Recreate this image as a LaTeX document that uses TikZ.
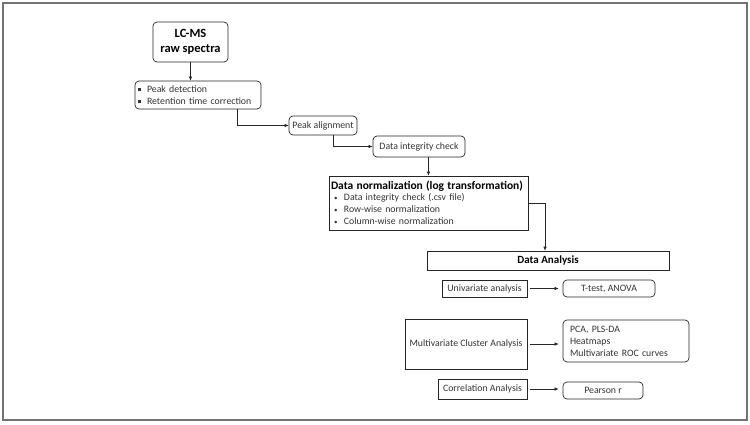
\documentclass[tikz,border=0pt]{standalone}
\usepackage{fontspec}
\setmainfont{Carlito}
\usetikzlibrary{arrows.meta}
\newcommand{\mybul}{\hspace*{3pt}\raisebox{0.2pt}{\fontsize{7}{7}\selectfont\textbullet}\hspace{6.5pt}}
\newcommand{\mysq}{\rule[1pt]{3pt}{3pt}\hspace{6pt}}
\begin{document}
\begin{tikzpicture}[x=1pt,y=-1pt,
  base/.style={draw=black!85,line width=0.7pt,inner sep=2pt,font=\fontsize{9.8}{12}\selectfont,text=black!80},
  rbox/.style={base,rounded corners=4pt},
  sbox/.style={base},
  conn/.style={draw=black!85,line width=0.6pt,-{Latex[length=4pt,width=3.5pt]}},
]
\useasboundingbox (0,0) rectangle (750,424);
\draw[black!55,line width=1.2pt] (3,3) rectangle (747,420);

\node[rbox,minimum width=75pt,minimum height=40pt,align=center,font=\fontsize{12.5}{15}\selectfont\bfseries,text=black] (lcms) at (190.5,42) {LC-MS\\raw spectra};

\node[rbox,minimum width=126pt,minimum height=28pt,align=left,text width=120pt,inner xsep=3pt] (peak) at (198,95)
 {\mysq Peak detection\\\mysq Retention time correction};

\node[rbox,minimum width=68pt,minimum height=19pt] (palign) at (323,125.5) {Peak alignment};
\node[rbox,minimum width=92pt,minimum height=21pt] (dic) at (419,146.5) {Data integrity check};

\node[sbox,minimum width=199pt,minimum height=54pt,align=left,text width=195pt,inner xsep=2pt,inner ysep=1pt] (norm) at (428.5,203)
 {{\fontsize{11.5}{13}\selectfont\bfseries\color{black}Data normalization (log transformation)}\\[-1pt]
  \mybul Data integrity check (.csv file)\\
  \mybul Row-wise normalization\\
  \mybul Column-wise normalization};

\node[sbox,minimum width=242pt,minimum height=19pt,font=\fontsize{11}{13}\selectfont\bfseries,text=black] (da) at (548,260.5) {Data Analysis};

\node[sbox,minimum width=85pt,minimum height=17pt] (uni) at (484.5,288.5) {Univariate analysis};
\node[rbox,minimum width=92pt,minimum height=17pt] (ttest) at (609,288.5) {T-test, ANOVA};

\node[sbox,minimum width=122pt,minimum height=50pt] (multi) at (466,344) {Multivariate Cluster Analysis};
\node[rbox,minimum width=126pt,minimum height=42pt,align=left,text width=112pt] (pca) at (626,341)
 {PCA, PLS-DA\\Heatmaps\\Multivariate ROC curves};

\node[sbox,minimum width=89pt,minimum height=20pt] (corr) at (482.5,389) {Correlation Analysis};
\node[rbox,minimum width=80pt,minimum height=17pt] (pear) at (603,390.5) {Pearson r};

\draw[conn] (lcms.south) -- (lcms.south |- peak.north);
\draw[conn] ([xshift=39pt]peak.south) |- (palign.west);
\draw[conn] ([xshift=10pt]palign.south) |- (dic.west);
\draw[conn] (dic.south -| norm.north) -- (norm.north);
\draw[conn] (norm.east) -| ([xshift=-3pt]da.north);
\draw[conn,shorten <=3pt,shorten >=4pt] (uni.east) -- (ttest.west |- uni.east);
\draw[conn,shorten <=3pt,shorten >=4pt] (multi.east) -- (pca.west |- multi.east);
\draw[conn,shorten <=3pt,shorten >=4pt] (corr.east) -- (pear.west |- corr.east);
\end{tikzpicture}
\end{document}
